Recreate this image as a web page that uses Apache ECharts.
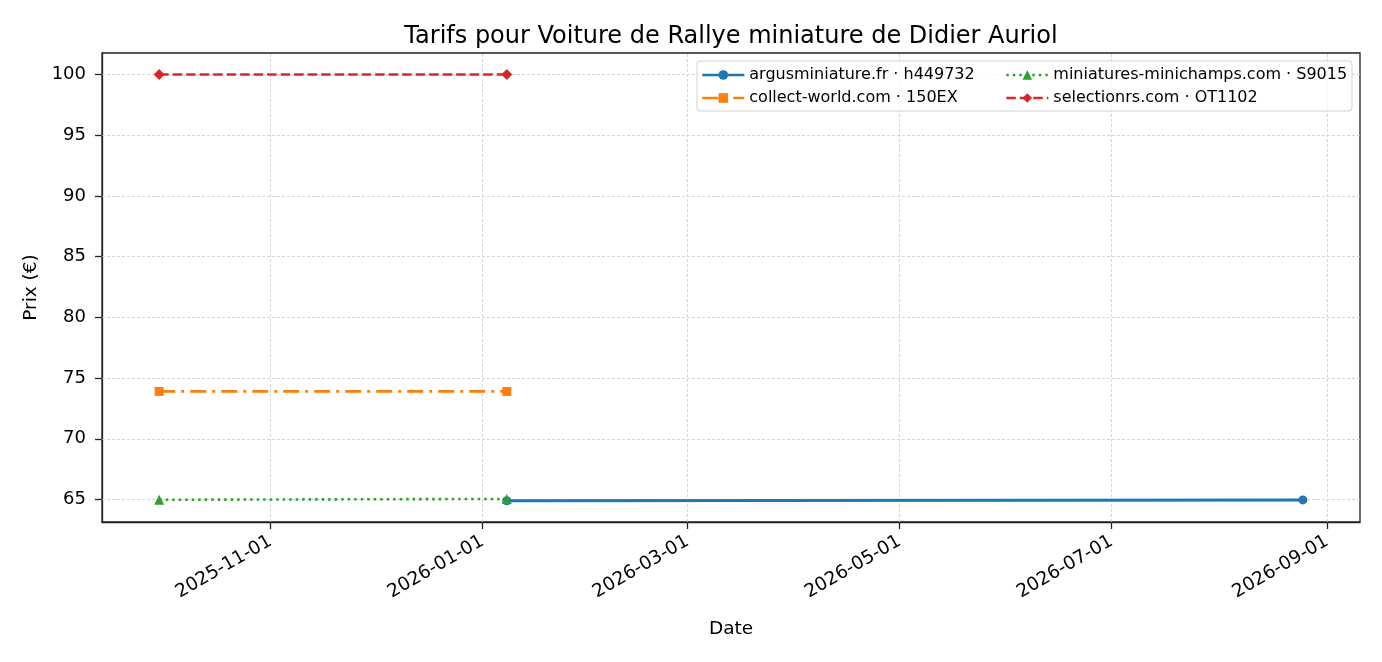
<!DOCTYPE html>
<html>
<head>
<meta charset="utf-8">
<script src="https://cdn.jsdelivr.net/npm/echarts@6/dist/echarts.min.js"></script>
<style>
  html, body { margin: 0; padding: 0; background: #fff; }
  #main { width: 1382px; height: 662px; }
</style>
</head>
<body>
<div id="main"></div>
<script>
// data
const seriesNames = [
  'argusminiature.fr · h449732',
  'collect-world.com · 150EX',
  'miniatures-minichamps.com · S9015',
  'selectionrs.com · OT1102'
];
const argusDates = ['2026-01-08', '2026-08-25'];
const argusPrices = [64.9, 64.97];
const collectDates = ['2025-09-30', '2026-01-08'];
const collectPrices = [73.9, 73.9];
const minichampsDates = ['2025-09-30', '2026-01-08'];
const minichampsPrices = [64.98, 65.05];
const selectionDates = ['2025-09-30', '2026-01-08'];
const selectionPrices = [99.99, 99.99];

const xTickLabels = ['2025-11-01', '2026-01-01', '2026-03-01', '2026-05-01', '2026-07-01', '2026-09-01'];
const yTickLabels = [65, 70, 75, 80, 85, 90, 95, 100];

const ts = d => Date.parse(d + 'T00:00:00Z');
const pairs = (ds, vs) => ds.map((d, i) => [ts(d), vs[i]]);

const xMin = ts('2025-09-30') - 16.45 * 86400000;
const xMax = ts('2026-08-25') + 16.45 * 86400000;
const xTicks = xTickLabels.map(ts);

const gridStyle = { color: '#cccccc', width: 0.8, type: [3, 2] };
const font = 'DejaVu Sans';

let myChart = echarts.init(document.getElementById('main'));

const lineSeries = (name, data, color, symbol, size, lineType, width) => ({
  name: name,
  type: 'line',
  data: data,
  symbol: symbol,
  symbolSize: size,
  showSymbol: true,
  color: color,
  itemStyle: { color: color, borderWidth: 0 },
  lineStyle: { color: color, width: width, type: lineType },
  emphasis: { disabled: true },
  animation: false,
  z: 6
});

const legendCommon = {
  orient: 'vertical',
  top: 67,
  padding: 0,
  itemWidth: 42, itemHeight: 12, itemGap: 7,
  lineStyle: { width: 2.6 },
  textStyle: { fontFamily: font, fontSize: 16, color: '#000' },
  z: 11
};

option = {
  animation: false,
  backgroundColor: '#fff',
  title: {
    text: 'Tarifs pour Voiture de Rallye miniature de Didier Auriol',
    left: 726, top: 20, textAlign: 'center',
    textStyle: { fontFamily: font, fontSize: 24, fontWeight: 'normal', color: '#000' }
  },
  grid: { left: 102, right: 22, top: 53, bottom: 140, containLabel: false,
    show: true, borderColor: '#222', borderWidth: 1.3, backgroundColor: 'transparent' },
  graphic: [{
    type: 'rect',
    shape: { x: 697, y: 61, width: 655, height: 50, r: 3 },
    style: { fill: 'rgba(255,255,255,0.8)', stroke: '#d0d0d0', lineWidth: 1 },
    z: 10
  }],
  legend: [
    Object.assign({ data: [seriesNames[0], seriesNames[1]], left: 701 }, legendCommon),
    Object.assign({ data: [seriesNames[2], seriesNames[3]], left: 1005 }, legendCommon)
  ],
  xAxis: {
    type: 'value',
    min: xMin, max: xMax,
    name: 'Date', nameLocation: 'middle', nameGap: 98,
    nameTextStyle: { fontFamily: font, fontSize: 18.5, color: '#000' },
    axisLine: { onZero: false, lineStyle: { color: '#222', width: 1.3 } },
    axisTick: { show: true, customValues: xTicks, length: 7, lineStyle: { color: '#222', width: 1.3 } },
    axisLabel: {
      customValues: xTicks, rotate: 30, margin: 18,
      fontFamily: font, fontSize: 18.5, color: '#000',
      formatter: v => { const d = new Date(v); return d.toISOString().slice(0, 10); }
    },
    splitLine: { show: false }
  },
  yAxis: {
    type: 'value',
    min: 63.15, max: 101.76,
    name: 'Prix (€)', nameLocation: 'middle', nameGap: 60, nameRotate: 90,
    nameTextStyle: { fontFamily: font, fontSize: 18.5, color: '#000' },
    axisLine: { show: true, lineStyle: { color: '#222', width: 1.3 } },
    axisTick: { show: true, customValues: yTickLabels, length: 7, lineStyle: { color: '#222', width: 1.3 } },
    axisLabel: { customValues: yTickLabels, fontFamily: font, fontSize: 18, color: '#000', margin: 16 },
    splitLine: { show: false }
  },
  series: [
    {
      name: '_grid', type: 'line', data: [], silent: true, z: 1,
      markLine: {
        silent: true, symbol: 'none', animation: false, z: 1,
        label: { show: false },
        lineStyle: gridStyle,
        emphasis: { disabled: true },
        data: xTicks.map(t => ({ xAxis: t })).concat(yTickLabels.map(v => ({ yAxis: v })))
      }
    },
    lineSeries(seriesNames[0], pairs(argusDates, argusPrices), '#1f77b4', 'circle', 9, 'solid', 3),
    lineSeries(seriesNames[1], pairs(collectDates, collectPrices), '#ff7f0e', 'rect', 9, [16, 6, 3, 6], 2.6),
    lineSeries(seriesNames[2], pairs(minichampsDates, minichampsPrices), '#2ca02c', 'triangle', 10, [2.5, 4], 2.6),
    lineSeries(seriesNames[3], pairs(selectionDates, selectionPrices), '#d62728', 'diamond', 11, [9.5, 4], 2.6)
  ]
};
myChart.setOption(option);
</script>
</body>
</html>
